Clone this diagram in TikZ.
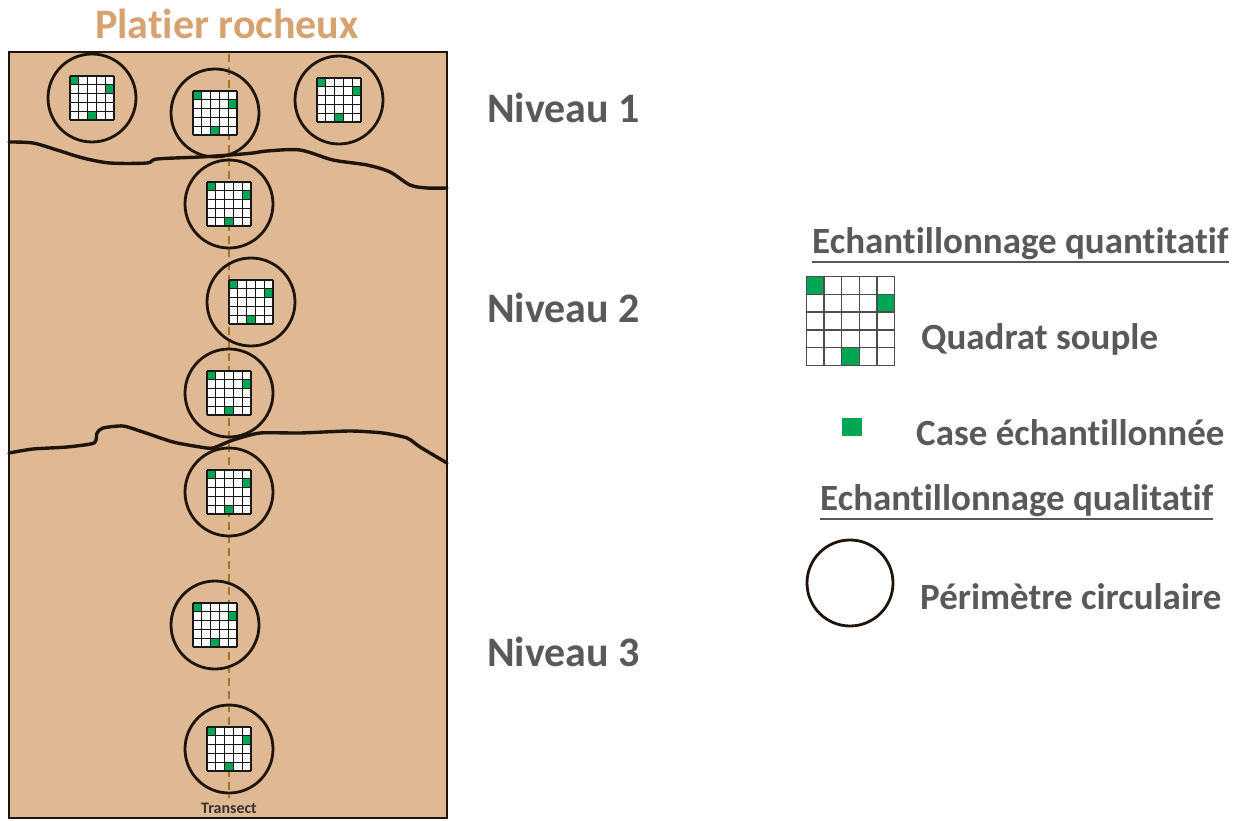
\documentclass[tikz,border=0pt]{standalone}
\usepackage{fontspec}
\setmainfont{Carlito}[RawFeature={-liga;-calt;-clig}]
\definecolor{rock}{RGB}{223,185,148}
\definecolor{titlec}{RGB}{214,162,112}
\definecolor{txt}{RGB}{89,89,89}
\definecolor{grn}{RGB}{0,166,81}
\definecolor{trans}{RGB}{165,115,35}
\definecolor{ink}{RGB}{30,20,12}
\newcommand\myquad[5]{%
  \begin{scope}[shift={(#1-2.5*#3,#2-2.5*#3)}]
    \fill[white] (0,0) rectangle (5*#3,5*#3);
    \fill[grn] (0,0) rectangle (#3,#3);
    \fill[grn] (4*#3,#3) rectangle (5*#3,2*#3);
    \fill[grn] (2*#3,4*#3) rectangle (3*#3,5*#3);
    \foreach \k in {0,...,5}{
      \draw[line width=#4,#5] (\k*#3,0) -- (\k*#3,5*#3);
      \draw[line width=#4,#5] (0,\k*#3) -- (5*#3,\k*#3);}
  \end{scope}}
\tikzset{
  circ/.style={draw=ink,line width=2.8pt},
  crack/.style={draw=ink,line width=3.4pt,line cap=round,line join=round},
  lvl/.style={font=\fontsize{42}{50}\selectfont\bfseries,text=txt,inner sep=0pt,anchor=base west},
  leg/.style={font=\fontsize{37}{44}\selectfont\bfseries,text=txt,inner sep=0pt,anchor=base west},
  ttl/.style={font=\fontsize{42}{50}\selectfont\bfseries,text=titlec,inner sep=0pt,anchor=base},
}
\begin{document}
\begin{tikzpicture}[x=1pt,y=-1pt]
\useasboundingbox (0,0) rectangle (1247,821);
% rock platform
\fill[rock] (9,52) rectangle (447,818);
% transect
\draw[trans,line width=1.6pt,dash pattern=on 8pt off 5pt] (229,54) -- (229,798);
% circles with quadrats
\foreach \cx/\cy in {92/98,215/113,339/100,229/204,251/302,229/393,229/492,215/625,229/749}{
  \draw[circ] (\cx,\cy) circle[radius=44];
  \myquad{\cx}{\cy}{8.8}{1.1pt}{black!90}
}
% level boundaries
\draw[crack] plot[smooth,tension=0.5] coordinates {(9,142) (33,143) (57,150) (83,158) (110,163) (147,163) (157,159) (200,157) (230,155) (253,153) (267,151) (300,150) (333,160) (367,165) (390,172) (410,185) (427,188) (447,188)};
\draw[crack] plot[smooth,tension=0.4] coordinates {(9,453) (33,449) (67,447) (94,443) (97,433) (103,428) (123,426) (143,432) (173,442) (200,447) (213,448) (233,440) (260,433) (300,433) (350,431) (383,433) (407,438) (420,447) (447,463)};
% border
\draw[ink,line width=2pt] (9,52) rectangle (447,818);
% texts
\node[ttl] (title) at (227,39) {Platier rocheux};
\node[font=\fontsize{16}{18}\selectfont\bfseries,text=black!80,inner sep=0pt,anchor=base] (tr) at (229,813) {Transect};
\node[lvl] (n1) at (487,123) {Niveau 1};
\node[lvl] (n2) at (487,322) {Niveau 2};
\node[lvl] (n3) at (487,666) {Niveau 3};
% legend
\node[leg] (h1) at (812,253) {Echantillonnage quantitatif};
\draw[txt,line width=2.5pt] ([yshift=-9pt]h1.base west) -- ([yshift=-9pt]h1.base east);
\myquad{850.5}{321}{17.7}{1.4pt}{black!70}
\node[leg] (qs) at (921,349) {Quadrat souple};
\fill[grn] (842,418) rectangle (862,436);
\node[leg] (ce) at (916,445) {Case échantillonnée};
\node[leg] (h2) at (820,510) {Echantillonnage qualitatif};
\draw[txt,line width=2.5pt] ([yshift=-9pt]h2.base west) -- ([yshift=-9pt]h2.base east);
\draw[circ] (850,583) circle[radius=43];
\node[leg] (pc) at (920,609) {Périmètre circulaire};
\end{tikzpicture}
\end{document}
